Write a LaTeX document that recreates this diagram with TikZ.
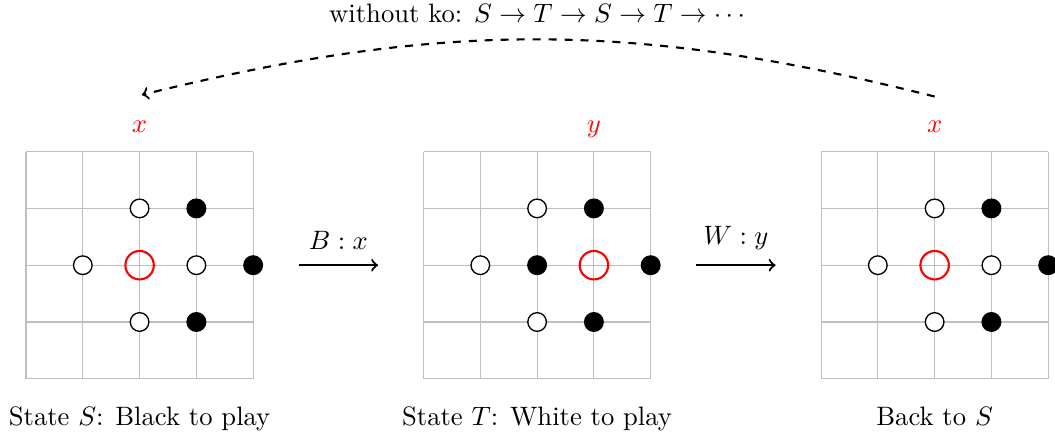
\documentclass[tikz,border=0pt]{standalone}
\begin{document}
\begin{tikzpicture}[x=0.75cm,y=0.75cm,
  board/.style={gray!50,line width=0.4pt,step=0.75cm},
  wstone/.style={draw=black,fill=white,line width=0.5pt},
  bstone/.style={draw=black,fill=black,line width=0.5pt},
  koring/.style={draw=red,thick},
  kolabel/.style={red,anchor=base},
  move/.style={->,thick},
  caption/.style={anchor=base}]
\useasboundingbox (-0.458,-0.933) rectangle (18.12,6.67);
% Ko cycle: S -> T -> S
\begin{scope}
\draw[board] (0,0) grid (4,4);
\foreach \p in {(2,3),(1,2),(3,2),(2,1)} \draw[wstone] \p circle (0.123cm);
\foreach \p in {(3,3),(4,2),(3,1)} \draw[bstone] \p circle (0.123cm);
\draw[koring] (2,2) circle (0.188cm);
\node[kolabel] (markS) at (2,4.33) {$x$};
\node[caption] (capS) at (2,-0.83) {State $S$: Black to play};
\coordinate (arcEnd) at (2.04,5.0);
\coordinate (moveA) at (4.8,2);
\end{scope}
\begin{scope}[shift={(7,0)}]
\draw[board] (0,0) grid (4,4);
\foreach \p in {(2,3),(1,2),(2,1)} \draw[wstone] \p circle (0.123cm);
\foreach \p in {(3,3),(2,2),(4,2),(3,1)} \draw[bstone] \p circle (0.123cm);
\draw[koring] (3,2) circle (0.188cm);
\node[kolabel] (markT) at (3,4.33) {$y$};
\node[caption] (capT) at (2,-0.83) {State $T$: White to play};
\coordinate (moveB) at (-0.8,2);
\coordinate (moveC) at (4.8,2);
\end{scope}
\begin{scope}[shift={(14,0)}]
\draw[board] (0,0) grid (4,4);
\foreach \p in {(2,3),(1,2),(3,2),(2,1)} \draw[wstone] \p circle (0.123cm);
\foreach \p in {(3,3),(4,2),(3,1)} \draw[bstone] \p circle (0.123cm);
\draw[koring] (2,2) circle (0.188cm);
\node[kolabel] (markS2) at (2,4.33) {$x$};
\node[caption] (capS2) at (2,-0.83) {Back to $S$};
\coordinate (moveD) at (-0.8,2);
\coordinate (arcStart) at (2,4.97);
\end{scope}
\draw[move] (moveA) -- node[above=2pt] (lblB) {$B:x$} (moveB);
\draw[move] (moveC) -- node[above=2pt] (lblW) {$W:y$} (moveD);
\draw[move,dashed] (arcStart) to[bend right=14] (arcEnd);
\node[anchor=base] (cycle) at (9,6.27) {without ko: $S\to T\to S\to T\to\cdots$};
\end{tikzpicture}
\end{document}
